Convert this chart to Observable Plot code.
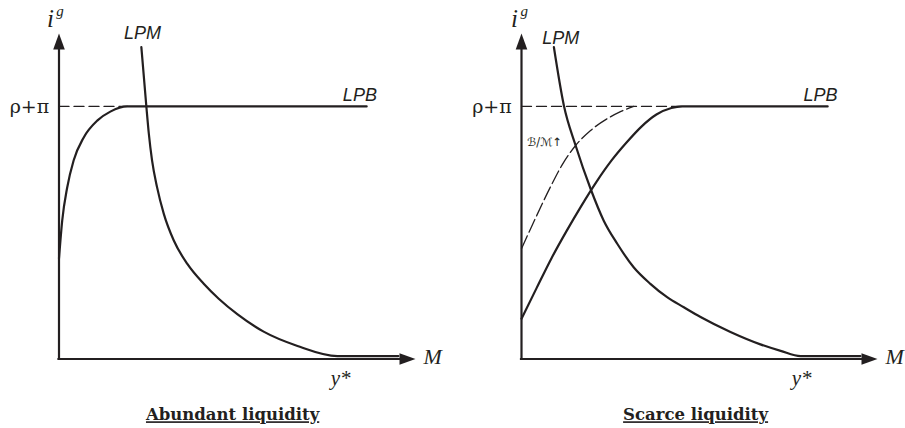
<!DOCTYPE html>
<html><head><meta charset="utf-8">
<script src="https://cdn.jsdelivr.net/npm/d3@7"></script>
<script src="https://cdn.jsdelivr.net/npm/@observablehq/plot@0.6"></script>
<style>
body{margin:0;background:#fff;}
#wrap{display:flex;width:905px;height:428px;overflow:hidden;}
svg{display:block;overflow:visible}
</style></head><body><div id="wrap"></div>
<script>
// ---- data (abstract units: M on x from 0 to 10, i^g on y from 0 to 10) ----
const titles = ["Abundant liquidity", "Scarce liquidity"];
const rhoPi = 7.76;               // ρ+π level
const axisTip = 10;

// Left panel: abundant liquidity
const lpbAX = [0, 0.09, 0.23, 0.41, 0.69, 1.08, 1.44, 1.92, 8.63];
const lpbAY = [3.09, 4.25, 5.27, 6.10, 6.80, 7.33, 7.60, 7.76, 7.76];
const lpmAX = [2.31, 2.45, 2.52, 2.61, 2.75, 2.94, 3.22, 3.60, 4.06, 4.48, 5.01, 5.74, 6.69, 7.81, 9.52];
const lpmAY = [9.58, 7.76, 6.92, 6.10, 5.28, 4.46, 3.64, 2.92, 2.31, 1.85, 1.37, 0.84, 0.40, 0.09, 0.09];
const dashAX = [0, 1.92];

// Right panel: scarce liquidity
const lpbSX = [0, 0.42, 0.84, 1.26, 1.69, 2.11, 2.53, 2.95, 3.37, 3.79, 4.21, 4.52, 8.60];
const lpbSY = [1.24, 2.17, 3.09, 3.92, 4.72, 5.45, 6.10, 6.65, 7.14, 7.51, 7.71, 7.76, 7.76];
const bmSX = [0, 0.39, 0.81, 1.15, 1.52, 1.94, 2.42, 2.78, 3.15];
const bmSY = [3.39, 4.32, 5.28, 5.98, 6.56, 7.02, 7.39, 7.60, 7.76];
const lpmSX = [0.91, 1.19, 1.52, 1.94, 2.31, 2.69, 3.15, 3.62, 4.09, 4.56, 5.03, 5.87, 6.71, 7.28, 7.84, 9.52];
const lpmSY = [9.58, 7.79, 6.56, 5.23, 4.25, 3.54, 2.82, 2.31, 1.90, 1.59, 1.29, 0.83, 0.45, 0.25, 0.09, 0.09];
const dashSX = [0, 4.52];

// label positions (same units)
const labelText = ["LPM", "LPB", "ρ+π", "M", "y*"];
const lpmLabelX = [2.34, 1.10], lpmLabelY = [10.0, 9.85];
const lpbLabelX = [8.44, 8.40], lpbLabelY = 8.10;
const rhoLabelX = -0.83;
const mLabel = {x: 10.48, y: 0.05};
const yStarX = [7.90, 7.87], yStarY = -0.60;
const iLabelX = [-0.24, -0.20], gLabelX = [0.03, 0.08];
const iLabelY = 10.45, gLabelY = 10.68;
const bmLabel = {text: "ℬ/ℳ↑", x: 0.65, y: 6.65};
const titleX = [4.87, 4.89], titleY = -1.72;

const ink = "#231f20";
const pts = (xs, ys) => xs.map((x, i) => ({x, y: ys[i]}));

const upArrow = {draw(ctx) { ctx.moveTo(0, 0); ctx.lineTo(5.8, 16); ctx.lineTo(-5.8, 16); ctx.closePath(); }};

function panel(k, opts) {
  const serif = "Liberation Serif";
  const sans = "Liberation Sans";
  const marks = [
    // axes
    Plot.ruleX([0], {y1: 0, y2: 9.55, stroke: ink, strokeWidth: 2.2, strokeLinecap: "square"}),
    Plot.ruleY([0], {x1: 0, x2: 9.6, stroke: ink, strokeWidth: 2.2, strokeLinecap: "square"}),
    Plot.dot([{x: 0, y: axisTip}], {x: "x", y: "y", symbol: upArrow, fill: ink, stroke: null, r: 5}),
    Plot.dot([{x: axisTip, y: 0}], {x: "x", y: "y", symbol: upArrow, fill: ink, stroke: null, r: 5, rotate: 90}),
    // dashed ρ+π guide
    Plot.line(pts(opts.dashX, opts.dashX.map(() => rhoPi)), {x: "x", y: "y", stroke: ink, strokeWidth: 1.3, strokeDasharray: "10,5"}),
    ...(opts.bm ? [Plot.line(opts.bm, {x: "x", y: "y", curve: "monotone-x", stroke: ink, strokeWidth: 1.3, strokeDasharray: "14,4"})] : []),
    Plot.line(opts.lpb, {x: "x", y: "y", curve: "monotone-x", stroke: ink, strokeWidth: 2.2}),
    Plot.line(opts.lpm, {x: "x", y: "y", curve: "monotone-x", stroke: ink, strokeWidth: 2.2}),
    // labels
    Plot.text([labelText[0]], {x: lpmLabelX[k], y: lpmLabelY[k], text: d => d, fontFamily: sans, fontStyle: "italic", fontSize: 18, fill: ink}),
    Plot.text([labelText[1]], {x: lpbLabelX[k], y: lpbLabelY, text: d => d, fontFamily: sans, fontStyle: "italic", fontSize: 18, fill: ink}),
    Plot.text([labelText[2]], {x: rhoLabelX, y: rhoPi, text: d => d, fontFamily: "DejaVu Serif", fontSize: 19, fill: ink}),
    Plot.text([labelText[3]], {x: mLabel.x, y: mLabel.y, text: d => d, fontFamily: serif, fontStyle: "italic", fontSize: 22, fill: ink}),
    Plot.text([labelText[4]], {x: yStarX[k], y: yStarY, text: d => d, fontFamily: serif, fontStyle: "italic", fontSize: 21, fill: ink}),
    Plot.text(["i"], {x: iLabelX[k], y: iLabelY, text: d => d, fontFamily: serif, fontStyle: "italic", fontSize: 25, fill: ink}),
    Plot.text(["g"], {x: gLabelX[k], y: gLabelY, text: d => d, fontFamily: serif, fontStyle: "italic", fontSize: 15, fill: ink}),
    Plot.text([titles[k]], {x: titleX[k], y: titleY, text: d => d, fontFamily: "DejaVu Serif", fontWeight: "bold", fontSize: 16.5, fill: ink})
  ];
  if (opts.bm) marks.push(Plot.text([bmLabel.text], {x: bmLabel.x, y: bmLabel.y, text: d => d, fontFamily: "DejaVu Sans", fontSize: 11.5, fill: ink}));
  const svg = Plot.plot({
    width: opts.width, height: 428,
    marginLeft: opts.ml, marginRight: opts.mr, marginTop: 33, marginBottom: 69.5,
    x: {domain: [0, 10], axis: null},
    y: {domain: [0, 10], axis: null},
    style: {background: "transparent", overflow: "visible"},
    marks
  });
  d3.select(svg).selectAll("text").filter(function() { return this.textContent === titles[k]; })
    .attr("text-decoration", "underline");
  return svg;
}

const wrap = document.getElementById("wrap");
wrap.append(panel(0, {width: 453, ml: 58.5, mr: 38, dashX: dashAX, lpb: pts(lpbAX, lpbAY), lpm: pts(lpmAX, lpmAY)}));
wrap.append(panel(1, {width: 452, ml: 68, mr: 28, dashX: dashSX, lpb: pts(lpbSX, lpbSY), lpm: pts(lpmSX, lpmSY), bm: pts(bmSX, bmSY)}));
</script>
</body></html>
